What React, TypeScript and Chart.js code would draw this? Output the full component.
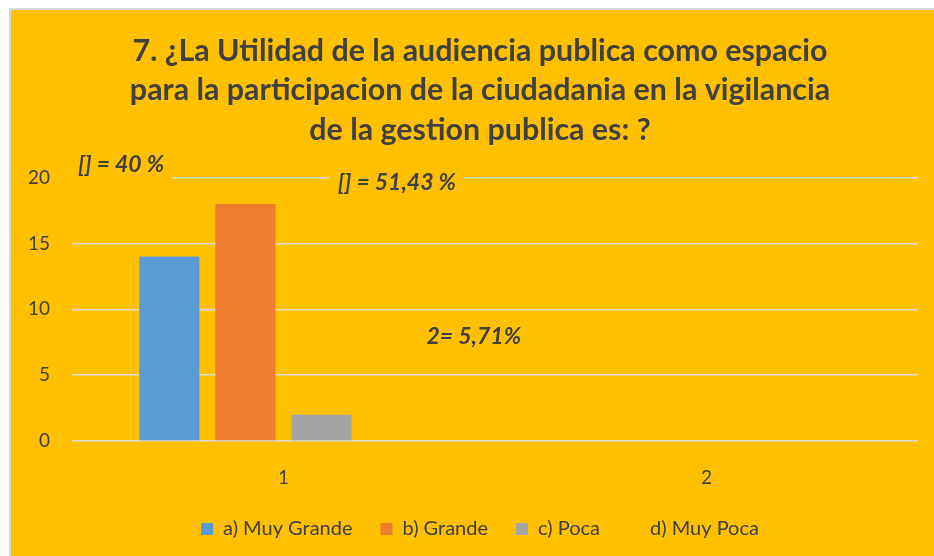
import { useEffect, useRef } from "react";
import { Chart, registerables } from "chart.js";

Chart.register(...registerables);

const TITLE_LINES = [
  "7. ¿La Utilidad de la audiencia publica como espacio",
  "para la participacion de la ciudadania en la vigilancia",
  "de la gestion publica es: ?",
];
const categories = ["1", "2"];
const seriesNames = ["a) Muy Grande", "b) Grande", "c) Poca", "d) Muy Poca"];
const muyGrande = [14, 0];
const grande = [18, 0];
const poca = [2, 0];
const muyPoca = [0, 0];
const seriesColors = ["#5B9BD5", "#ED7D31", "#A5A5A5", "#FFC000"];
const yMin = 0;
const yMax = 20;
const yStep = 5;

const annotationTexts = ["[] = 40 %", "[] = 51,43 %", "2= 5,71%"];
const annotationCategoryPos = [-0.384, 0.268, 0.45];
const annotationValues = [21.0, 19.6, 7.9];
const annotationBoxed = [true, true, false];

const BG = "#FFC000";
const TEXT = "#404040";
const FONT = "Lato, 'Open Sans', sans-serif";

const annotationPlugin = {
  id: "textAnnotations",
  afterDatasetsDraw(chart: any) {
    const { ctx, scales } = chart;
    const x = scales.x;
    const y = scales.y;
    const x0 = x.getPixelForValue(0);
    const step = x.getPixelForValue(1) - x0;
    ctx.save();
    ctx.font = `italic bold 23px ${FONT}`;
    ctx.textAlign = "center";
    ctx.textBaseline = "middle";
    annotationTexts.forEach((t, i) => {
      const px = x0 + annotationCategoryPos[i] * step;
      const py = y.getPixelForValue(annotationValues[i]);
      const w = ctx.measureText(t).width;
      if (annotationBoxed[i]) {
        ctx.fillStyle = BG;
        ctx.fillRect(px - w / 2 - 8, py - 15, w + 16, 30);
      }
      ctx.fillStyle = TEXT;
      ctx.fillText(t, px, py);
    });
    ctx.restore();
  },
};

export default function App() {
  const ref = useRef<HTMLCanvasElement | null>(null);
  useEffect(() => {
    document.body.style.overflow = "hidden";
    const values = [muyGrande, grande, poca, muyPoca];
    const chart = new Chart(ref.current!, {
      type: "bar",
      data: {
        labels: categories,
        datasets: seriesNames.map((name, i) => ({
          label: name,
          data: values[i],
          backgroundColor: seriesColors[i],
          borderColor: seriesColors[i],
          borderWidth: 0,
          categoryPercentage: 0.72,
          barPercentage: 0.79,
          yAxisID: "y",
        })),
      },
      options: {
        responsive: true,
        maintainAspectRatio: false,
        animation: false,
        layout: { padding: { left: 17, right: 2, top: 0, bottom: 7 } },
        plugins: {
          title: {
            display: true,
            text: TITLE_LINES,
            color: TEXT,
            font: { family: FONT, size: 30.4, weight: "bold", lineHeight: 1.3 },
            padding: { top: 21, bottom: 28 },
          },
          legend: {
            position: "bottom",
            labels: {
              color: TEXT,
              font: { family: FONT, size: 20 },
              boxWidth: 12,
              boxHeight: 12,
              padding: 28,
            },
          },
          tooltip: { enabled: false },
        },
        scales: {
          x: {
            grid: { display: false, drawTicks: false },
            border: { display: false },
            ticks: { color: TEXT, font: { family: FONT, size: 19 }, padding: 25 },
            afterFit: (s: any) => {
              s.height = 50;
            },
          },
          y: {
            min: yMin,
            max: yMax,
            ticks: { stepSize: yStep, color: TEXT, font: { family: FONT, size: 19 }, padding: 22 },
            grid: { color: "#D9D9D9", lineWidth: 1.5, drawTicks: false },
            border: { display: false },
            afterFit: (s: any) => {
              s.width = 44;
            },
          },
          spacer: {
            type: "linear",
            position: "right",
            display: true,
            grid: { display: false, drawTicks: false },
            border: { display: false },
            ticks: { display: false },
            afterFit: (s: any) => {
              s.width = 14;
            },
          },
        },
      },
      plugins: [annotationPlugin],
    });
    return () => chart.destroy();
  }, []);
  return (
    <div
      style={{
        position: "fixed",
        left: 9,
        top: 8,
        width: 925,
        height: 548,
        boxSizing: "border-box",
        borderLeft: "2px solid #D9D9D9",
        borderTop: "2px solid #D9D9D9",
        background: BG,
      }}
    >
      <div style={{ position: "relative", width: "100%", height: "100%" }}>
        <canvas ref={ref} />
      </div>
    </div>
  );
}
